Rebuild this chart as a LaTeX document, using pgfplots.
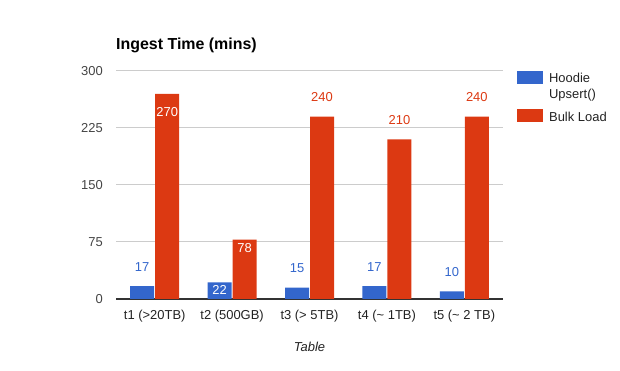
\documentclass[border=0pt]{standalone}
\usepackage{pgfplots}
\pgfplotsset{compat=1.18}
\usepackage{fontspec}
\setmainfont{Liberation Sans}
\definecolor{hblue}{HTML}{3366CC}
\definecolor{bred}{HTML}{DC3912}
\definecolor{gridc}{HTML}{CCCCCC}
\definecolor{basec}{HTML}{333333}
\definecolor{tickc}{HTML}{444444}
\definecolor{labc}{HTML}{222222}
\newcommand{\tfont}{\fontsize{13}{16}\selectfont}
\begin{document}
\begin{tikzpicture}
\path[use as bounding box] (0,0) rectangle (620bp,371bp);
\begin{axis}[
  at={(116bp,72bp)}, anchor=south west,
  scale only axis, width=387bp, height=228bp,
  xmin=-0.5, xmax=4.5, ymin=0, ymax=300,
  axis line style={draw=none},
  major tick length=0pt,
  xtick={0,1,2,3,4},
  xticklabels={t1 (>20TB), t2 (500GB), t3 (> 5TB), t4 (\textasciitilde{} 1TB), t5 (\textasciitilde{} 2 TB)},
  xticklabel style={anchor=base, yshift=-20.3bp, font=\tfont, text=labc},
  ytick={75,150,225,300},
  extra y ticks={0},
  extra y tick style={grid=major, major grid style={basec, line width=1.2bp}},
  ymajorgrids,
  major grid style={gridc, line width=1bp},
  yticklabel style={anchor=east, inner sep=0pt, xshift=-13bp, font=\tfont, text=tickc},
  /pgf/number format/assume math mode=true,
  title={Ingest Time (mins)},
  title style={at={(axis description cs:0,1)}, anchor=base west, yshift=15.8bp, inner sep=0pt, font=\bfseries\fontsize{16}{19}\selectfont, text=black},
  xlabel={Table},
  xlabel style={at={(axis description cs:0.5,0)}, anchor=base, yshift=-52bp, inner sep=0pt, font=\itshape\tfont, text=labc},
  legend style={at={(axis description cs:1.036,1)}, anchor=north west, draw=none, fill=none, inner sep=0pt, font=\tfont, text=labc, cells={anchor=west, align=left}, row sep=7bp, column sep=4bp},
]
\addplot[ybar, bar width=24bp, bar shift=-12.5bp, fill=hblue, draw=none,
  legend image code/.code={\fill[hblue] (0bp,2.5bp) rectangle (26bp,15.5bp);}] coordinates {(0,17) (1,22) (2,15) (3,17) (4,10)};
\addlegendentry{Hoodie\\Upsert()}
\addplot[ybar, bar width=24bp, bar shift=12.5bp, fill=bred, draw=none,
  legend image code/.code={\fill[bred] (0bp,-5bp) rectangle (26bp,8bp);}] coordinates {(0,270) (1,78) (2,240) (3,210) (4,240)};
\addlegendentry{Bulk Load}
% labels above bars (x offset = bar shift of 12.5bp / 77.4bp per category)
\addplot[forget plot, draw=none, mark=none, nodes near coords, every node near coord/.append style={inner sep=0pt, yshift=14.35bp, font=\tfont, text=hblue}] coordinates {(-0.1615,17) (1.8385,15) (2.8385,17) (3.8385,10)};
\addplot[forget plot, draw=none, mark=none, nodes near coords, every node near coord/.append style={inner sep=0pt, yshift=14.35bp, font=\tfont, text=bred}] coordinates {(2.1615,240) (3.1615,210) (4.1615,240)};
% labels inside bars
\addplot[forget plot, draw=none, mark=none, nodes near coords, every node near coord/.append style={inner sep=0pt, yshift=-12.65bp, font=\tfont, text=white}] coordinates {(0.8385,22) (1.1615,78)};
\addplot[forget plot, draw=none, mark=none, nodes near coords, every node near coord/.append style={inner sep=0pt, yshift=-22.65bp, font=\tfont, text=white}] coordinates {(0.1615,270)};
\end{axis}
\end{tikzpicture}
\end{document}
